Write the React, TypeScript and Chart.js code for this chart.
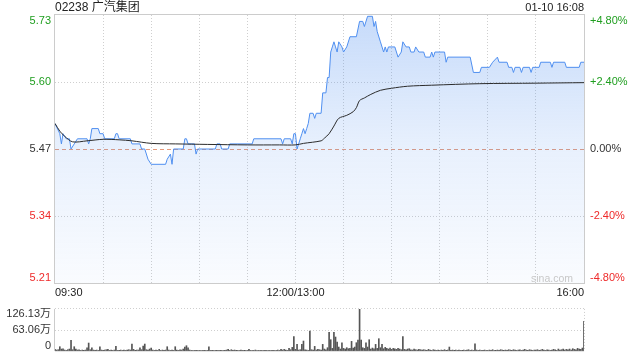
import React, { useEffect, useRef } from 'react';
import { Chart, registerables } from 'chart.js';

Chart.register(...registerables);

const FONT = '"Liberation Sans", Arial, "Noto Sans CJK SC", sans-serif';
const GREEN = '#1f9e1f';
const RED = '#ee2a2a';
const DARK = '#333333';

// ---------- texts ----------
const stockTitle = '02238 广汽集团';
const stampText = '01-10 16:08';
const watermark = 'sina.com';

// ---------- axes ----------
const prevClose = 5.47;
const pctLevels = [-4.8, -2.4, 0, 2.4, 4.8];
const priceTickLabels = ['5.21', '5.34', '5.47', '5.60', '5.73'];
const pctTickLabels = ['-4.80%', '-2.40%', '0.00%', '+2.40%', '+4.80%'];
const totalMinutes = 330;
const gridStepMinutes = 30;
const timeTickMinutes = [0, 150, 330];
const timeTickLabels = ['09:30', '12:00/13:00', '16:00'];
const volumeTicks = [0, 63.06, 126.13];
const volumeTickLabels = ['0', '63.06万', '126.13万'];

// ---------- price series (minute index from 09:30, price) ----------
const priceMinutes = [
  0, 3, 4, 5, 7, 9, 10, 12, 14, 20, 21, 22, 23, 27, 28, 30, 31, 37, 38, 39, 40, 47, 48, 53, 54, 56, 58, 60, 69, 70,
  72, 73, 74, 80, 81, 82, 83, 87, 88, 89, 100, 101, 103, 104, 108, 109, 123, 124, 141, 142, 143, 147, 148, 149, 150,
  151, 152, 153, 154, 155, 156, 157, 158, 159, 161, 162, 163, 166, 167, 169, 170, 171, 172, 173, 174, 175, 176, 177,
  179, 180, 182, 184, 188, 190, 192, 193, 195, 198, 199, 200, 201, 203, 205, 206, 207, 208, 212, 214, 216, 217, 219,
  221, 222, 224, 225, 227, 230, 231, 234, 235, 236, 237, 243, 244, 245, 259, 261, 265, 266, 271, 273, 276, 277, 282,
  283, 285, 286, 287, 290, 291, 292, 296, 297, 298, 302, 303, 309, 310, 311, 318, 319, 327, 328, 330,
];
const priceValues = [
  5.52, 5.50, 5.48, 5.50, 5.49, 5.49, 5.47, 5.48, 5.49, 5.49, 5.48, 5.49, 5.51, 5.51, 5.50, 5.50, 5.49, 5.49, 5.50, 5.50, 5.49, 5.49, 5.48, 5.48, 5.47, 5.47, 5.45, 5.44, 5.44, 5.45,
  5.46, 5.44, 5.47, 5.47, 5.49, 5.49, 5.48, 5.48, 5.46, 5.47, 5.47, 5.48, 5.48, 5.47, 5.47, 5.48, 5.48, 5.49, 5.49, 5.48, 5.49, 5.49, 5.48, 5.50, 5.50,
  5.47, 5.48, 5.49, 5.50, 5.51, 5.50, 5.51, 5.52, 5.54, 5.54, 5.53, 5.54, 5.54, 5.58, 5.58, 5.61, 5.61, 5.66, 5.67, 5.68, 5.67, 5.66, 5.68,
  5.67, 5.66, 5.67, 5.69, 5.69, 5.72, 5.72, 5.71, 5.73, 5.73, 5.71, 5.72, 5.70, 5.68, 5.66, 5.67, 5.66, 5.67, 5.67, 5.65, 5.66, 5.68, 5.67,
  5.67, 5.66, 5.66, 5.67, 5.66, 5.66, 5.65, 5.65, 5.66, 5.65, 5.66, 5.66, 5.64, 5.65, 5.65, 5.62, 5.62, 5.63, 5.63, 5.64, 5.65, 5.64, 5.64,
  5.63, 5.63, 5.62, 5.63, 5.63, 5.62, 5.63, 5.63, 5.62, 5.63, 5.63, 5.64, 5.64, 5.63, 5.64, 5.64, 5.63, 5.63, 5.64, 5.64,
];

// ---------- average price line ----------
const avgMinutes = [0, 3, 6, 11, 20, 30, 40, 48, 60, 75, 95, 120, 140, 150, 155, 166, 168, 171, 174, 177, 182, 186, 188, 190, 193, 197, 203, 210, 220, 235, 265, 300, 330];
const avgValues = [5.52, 5.505, 5.495, 5.484, 5.486, 5.489, 5.488, 5.486, 5.481, 5.48, 5.479, 5.478, 5.478, 5.478, 5.481, 5.486, 5.491, 5.5, 5.515, 5.53, 5.536, 5.543, 5.551, 5.565, 5.57, 5.577, 5.585, 5.589, 5.593, 5.595, 5.598, 5.599, 5.6];

// ---------- volume per minute (万) ----------
const volumes = [
  5, 3, 4, 13, 6, 7, 3, 2, 4, 6,
  32, 4, 13, 6, 3, 4, 2, 3, 2, 3,
  10, 24, 4, 10, 3, 2, 3, 2, 13, 3,
  2, 3, 4, 5, 2, 3, 2, 3, 14, 2,
  2, 3, 2, 3, 2, 3, 4, 3, 21, 5,
  2, 3, 3, 10, 4, 15, 21, 4, 3, 6,
  9, 3, 2, 3, 2, 5, 2, 3, 2, 3,
  13, 3, 2, 3, 2, 13, 3, 2, 4, 3,
  6, 12, 16, 10, 3, 2, 1, 2, 2, 1,
  2, 1, 2, 2, 1, 2, 13, 2, 2, 1,
  2, 2, 1, 2, 2, 1, 2, 3, 5, 2,
  4, 2, 3, 2, 2, 1, 3, 2, 2, 1,
  2, 5, 2, 1, 2, 3, 1, 2, 2, 2,
  1, 2, 2, 1, 2, 2, 2, 1, 2, 3,
  2, 5, 3, 5, 3, 2, 8, 4, 11, 43,
  5, 20, 3, 4, 20, 30, 4, 3, 2, 60,
  4, 3, 14, 3, 5, 4, 3, 20, 6, 4,
  10, 56, 34, 8, 56, 42, 27, 12, 6, 25,
  8, 6, 10, 7, 8, 29, 9, 12, 25, 33,
  126, 33, 10, 8, 25, 12, 34, 6, 9, 7,
  20, 8, 37, 10, 20, 7, 11, 8, 6, 9,
  5, 8, 7, 5, 8, 6, 4, 43, 5, 4,
  6, 7, 4, 3, 6, 4, 3, 5, 4, 3,
  4, 3, 2, 5, 3, 2, 4, 3, 2, 3,
  2, 3, 2, 4, 2, 3, 12, 2, 3, 2,
  3, 2, 3, 2, 2, 3, 2, 3, 4, 2,
  3, 2, 22, 3, 2, 3, 2, 2, 3, 2,
  2, 3, 2, 4, 2, 2, 3, 2, 4, 3,
  2, 3, 2, 4, 3, 2, 4, 3, 2, 3,
  4, 2, 3, 5, 3, 2, 4, 3, 2, 3,
  3, 4, 2, 3, 5, 3, 2, 4, 3, 2,
  3, 5, 4, 2, 6, 3, 4, 6, 3, 5,
  4, 6, 3, 7, 5, 4, 8, 6, 5, 9, 89,
];

const priceTickValues = pctLevels.map((p) => prevClose * (1 + p / 100));
const priceMin = priceTickValues[0];
const priceMax = priceTickValues[priceTickValues.length - 1];
const xGridValues: number[] = [];
for (let m = 0; m <= totalMinutes; m += gridStepMinutes) xGridValues.push(m);

const tickColor = (i: number) => (i > 2 ? GREEN : i < 2 ? RED : DARK);

// Puts the first (bottom) y label above the bottom edge and the last (top) below the top edge.
const edgeLabelPlugin = {
  id: 'edgeLabels',
  beforeDraw(chart: any) {
    Object.values(chart.scales).forEach((s: any) => {
      if (s.axis !== 'y' || !s.options.display) return;
      const items = s.getLabelItems(chart.chartArea);
      if (!items || !items.length) return;
      items[0].options.textBaseline = 'bottom';
      items[items.length - 1].options.textBaseline = 'top';
    });
  },
};

const priceFramePlugin = {
  id: 'priceFrame',
  beforeDatasetsDraw(chart: any) {
    const { ctx, chartArea: a } = chart;
    const y0 = chart.scales.y.getPixelForValue(prevClose);
    ctx.save();
    ctx.strokeStyle = '#e59a7c';
    ctx.lineWidth = 1;
    ctx.setLineDash([4, 3]);
    ctx.beginPath();
    ctx.moveTo(a.left, Math.round(y0) + 0.5);
    ctx.lineTo(a.right, Math.round(y0) + 0.5);
    ctx.stroke();
    ctx.setLineDash([]);
    ctx.strokeStyle = '#cccccc';
    ctx.strokeRect(a.left - 0.5, a.top - 0.5, a.right - a.left + 1, a.bottom - a.top + 1);
    ctx.restore();
  },
  afterDraw(chart: any) {
    const { ctx, chartArea: a } = chart;
    ctx.save();
    ctx.fillStyle = '#222';
    ctx.textBaseline = 'middle';
    ctx.font = `12px ${FONT}`;
    ctx.textAlign = 'left';
    ctx.fillText(stockTitle, a.left, 7.5);
    ctx.font = `11px ${FONT}`;
    ctx.textAlign = 'right';
    ctx.fillText(stampText, a.right, 7.5);
    ctx.fillStyle = '#c8c8c8';
    ctx.textBaseline = 'alphabetic';
    ctx.font = `10.5px ${FONT}`;
    ctx.fillText(watermark, a.right - 11, a.bottom - 1);
    ctx.restore();
  },
};

const volFramePlugin = {
  id: 'volFrame',
  beforeDatasetsDraw(chart: any) {
    const { ctx, chartArea: a } = chart;
    ctx.save();
    ctx.strokeStyle = '#cccccc';
    ctx.lineWidth = 1;
    ctx.beginPath();
    ctx.moveTo(a.left - 0.5, a.top);
    ctx.lineTo(a.left - 0.5, a.bottom);
    ctx.stroke();
    ctx.strokeStyle = '#e2e2e2';
    ctx.beginPath();
    ctx.moveTo(a.left, a.bottom + 0.5);
    ctx.lineTo(a.right, a.bottom + 0.5);
    ctx.stroke();
    ctx.setLineDash([1, 2]);
    ctx.strokeStyle = '#cccccc';
    ctx.beginPath();
    ctx.moveTo(a.right + 0.5, a.top);
    ctx.lineTo(a.right + 0.5, a.bottom);
    ctx.stroke();
    ctx.restore();
  },
};

function fillGradient(ctx: any) {
  const chart = ctx.chart;
  const a = chart.chartArea;
  if (!a) return 'rgba(79,143,240,0.15)';
  const g = chart.ctx.createLinearGradient(0, a.top, 0, a.bottom);
  g.addColorStop(0, 'rgba(79,143,240,0.32)');
  g.addColorStop(0.5, 'rgba(79,143,240,0.13)');
  g.addColorStop(1, 'rgba(79,143,240,0.03)');
  return g;
}

export default function App() {
  const priceRef = useRef<HTMLCanvasElement>(null);
  const volRef = useRef<HTMLCanvasElement>(null);

  useEffect(() => {
    const tickFont = { family: FONT, size: 11, lineHeight: 0.9 };
    const priceChart = new Chart(priceRef.current as HTMLCanvasElement, {
      type: 'line',
      data: {
        datasets: [
          {
            label: 'avg',
            data: avgMinutes.map((m, i) => ({ x: m, y: avgValues[i] })),
            borderColor: '#2b2b2b',
            borderWidth: 1,
            pointRadius: 0,
            fill: false,
            tension: 0.3,
            order: 1,
          },
          {
            label: 'price',
            data: priceMinutes.map((m, i) => ({ x: m, y: priceValues[i] })),
            borderColor: '#4f8ff0',
            borderWidth: 1,
            pointRadius: 0,
            fill: 'start',
            backgroundColor: fillGradient,
            tension: 0,
            order: 2,
          },
        ],
      },
      options: {
        responsive: false,
        animation: false,
        events: [],
        layout: { padding: { top: 15, left: 0, right: 0, bottom: 0 } },
        plugins: { legend: { display: false }, tooltip: { enabled: false }, title: { display: false } },
        scales: {
          x: {
            type: 'linear',
            min: 0,
            max: totalMinutes,
            offset: false,
            afterBuildTicks: (s: any) => {
              s.ticks = xGridValues.map((v) => ({ value: v }));
            },
            afterFit: (s: any) => {
              s.height = 17;
            },
            ticks: {
              autoSkip: false,
              maxRotation: 0,
              align: 'inner',
              padding: 3,
              color: '#222',
              font: { family: FONT, size: 11 },
              callback: (v: any) => {
                const i = timeTickMinutes.indexOf(Number(v));
                return i >= 0 ? timeTickLabels[i] : '';
              },
            },
            grid: {
              drawTicks: false,
              color: (c: any) => (c.tick && (c.tick.value === 0 || c.tick.value === totalMinutes) ? 'rgba(0,0,0,0)' : '#cfcfcf'),
            },
            border: { display: false, dash: [1, 2] },
          } as any,
          y: {
            type: 'linear',
            position: 'left',
            min: priceMin,
            max: priceMax,
            afterBuildTicks: (s: any) => {
              s.ticks = priceTickValues.map((v) => ({ value: v }));
            },
            afterFit: (s: any) => {
              s.width = 55;
            },
            ticks: {
              padding: 4,
              font: tickFont,
              color: (c: any) => tickColor(c.index),
              callback: (_v: any, i: number) => priceTickLabels[i],
            },
            grid: {
              drawTicks: false,
              color: (c: any) => (c.index === 1 || c.index === 3 ? '#cfcfcf' : 'rgba(0,0,0,0)'),
            },
            border: { display: false, dash: [1, 2] },
          } as any,
          y1: {
            type: 'linear',
            position: 'right',
            min: priceMin,
            max: priceMax,
            afterBuildTicks: (s: any) => {
              s.ticks = priceTickValues.map((v) => ({ value: v }));
            },
            afterFit: (s: any) => {
              s.width = 56;
            },
            ticks: {
              padding: 6,
              font: tickFont,
              color: (c: any) => tickColor(c.index),
              callback: (_v: any, i: number) => pctTickLabels[i],
            },
            grid: { display: false, drawTicks: false },
            border: { display: false },
          } as any,
        },
      } as any,
      plugins: [priceFramePlugin, edgeLabelPlugin],
    });

    const volChart = new Chart(volRef.current as HTMLCanvasElement, {
      type: 'bar',
      data: {
        datasets: [
          {
            label: 'volume',
            data: volumes.map((v, i) => ({ x: i, y: v })),
            backgroundColor: '#555555',
            barThickness: 1,
            grouped: false,
          } as any,
        ],
      },
      options: {
        responsive: false,
        animation: false,
        events: [],
        layout: { padding: { top: 5, left: 0, right: 56, bottom: 5 } },
        plugins: { legend: { display: false }, tooltip: { enabled: false } },
        scales: {
          x: {
            type: 'linear',
            min: 0,
            max: totalMinutes,
            offset: false,
            display: false,
            grid: { offset: false },
          } as any,
          y: {
            type: 'linear',
            position: 'left',
            min: 0,
            max: volumeTicks[volumeTicks.length - 1],
            afterBuildTicks: (s: any) => {
              s.ticks = volumeTicks.map((v) => ({ value: v }));
            },
            afterFit: (s: any) => {
              s.width = 55;
            },
            ticks: {
              padding: 4,
              font: tickFont,
              color: DARK,
              callback: (_v: any, i: number) => volumeTickLabels[i],
            },
            grid: {
              drawTicks: false,
              color: (c: any) => (c.index === 0 ? 'rgba(0,0,0,0)' : '#cfcfcf'),
            },
            border: { display: false, dash: [1, 2] },
          } as any,
        },
      } as any,
      plugins: [volFramePlugin, edgeLabelPlugin],
    });

    return () => {
      priceChart.destroy();
      volChart.destroy();
    };
  }, []);

  return (
    <div style={{ position: 'absolute', left: 0, top: 0, width: 640, height: 360, background: '#fff', overflow: 'hidden' }}>
      <canvas ref={priceRef} width={640} height={300} style={{ position: 'absolute', left: 0, top: 0, width: 640, height: 300 }} />
      <canvas ref={volRef} width={640} height={60} style={{ position: 'absolute', left: 0, top: 300, width: 640, height: 60 }} />
    </div>
  );
}
